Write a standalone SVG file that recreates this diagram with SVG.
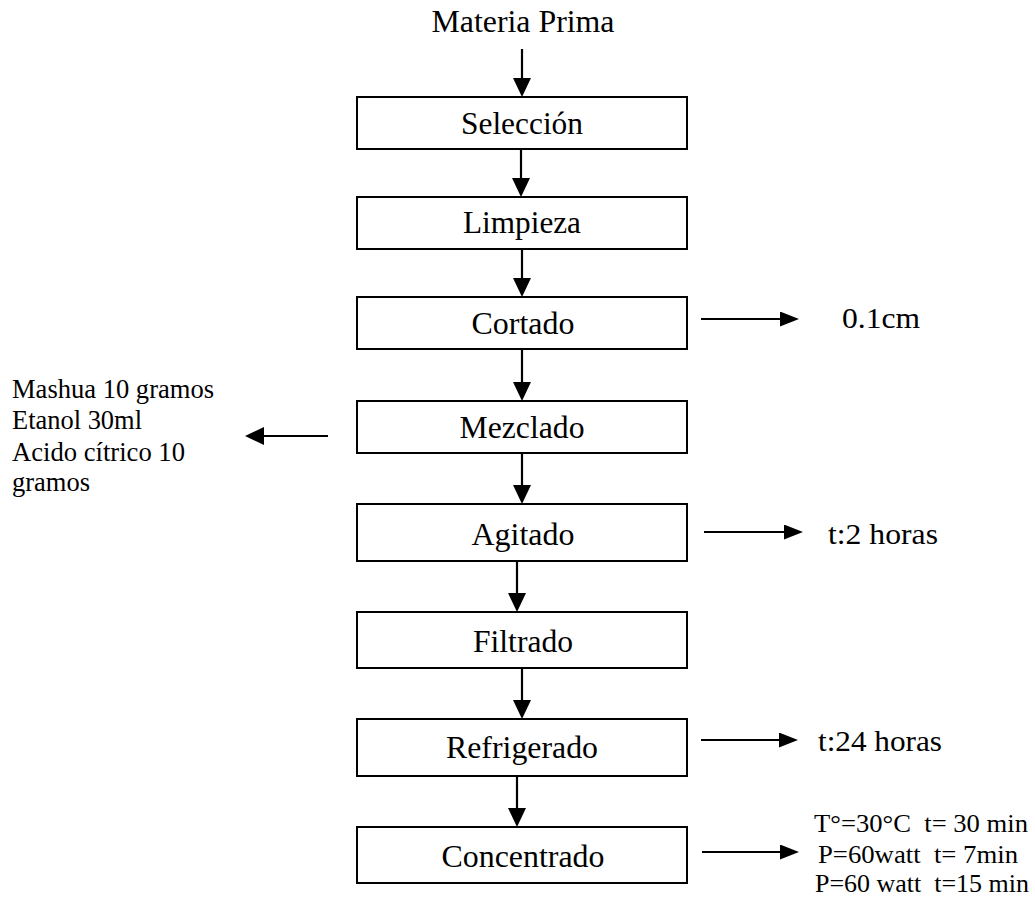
<svg xmlns="http://www.w3.org/2000/svg" width="1035" height="899" viewBox="0 0 1035 899">
<defs>
<style>
.box{fill:#fff;stroke:#000;stroke-width:2}
.lbl{font-family:"Liberation Serif","Times New Roman",serif;font-size:31px;fill:#000;text-anchor:middle}
.side{font-family:"Liberation Serif","Times New Roman",serif;font-size:30px;fill:#000;white-space:pre}
.small{font-family:"Liberation Serif","Times New Roman",serif;font-size:27px;fill:#000;white-space:pre}
.note{font-family:"Liberation Serif","Times New Roman",serif;font-size:26px;fill:#000;white-space:pre}
.conn{stroke:#000;stroke-width:2.2;fill:none}
.v{marker-end:url(#hv)}
.h{marker-end:url(#hh)}
</style>
<marker id="hv" markerUnits="userSpaceOnUse" markerWidth="20" markerHeight="20" refX="1" refY="9" orient="auto" viewBox="0 0 20 20">
<path d="M0,0 L19,9 L0,18 z" fill="#000"/>
</marker>
<marker id="hh" markerUnits="userSpaceOnUse" markerWidth="20" markerHeight="20" refX="1" refY="7.5" orient="auto" viewBox="0 0 20 20">
<path d="M0,0 L19,7.5 L0,15 z" fill="#000"/>
</marker>
</defs>
<rect width="1035" height="899" fill="#fff"/>

<g id="materia-prima">
<text class="lbl" x="523" y="32" textLength="183" lengthAdjust="spacingAndGlyphs">Materia Prima</text>
</g>
<g id="seleccion">
<rect class="box" x="357" y="97" width="330" height="52"/>
<text class="lbl" x="522" y="134" textLength="122" lengthAdjust="spacingAndGlyphs">Selección</text>
</g>
<g id="limpieza">
<rect class="box" x="357" y="197" width="330" height="52"/>
<text class="lbl" x="522" y="233" textLength="118" lengthAdjust="spacingAndGlyphs">Limpieza</text>
</g>
<g id="cortado">
<rect class="box" x="357" y="297" width="330" height="52"/>
<text class="lbl" x="523" y="334" textLength="103" lengthAdjust="spacingAndGlyphs">Cortado</text>
</g>
<g id="mezclado">
<rect class="box" x="357" y="401" width="330" height="52"/>
<text class="lbl" x="522" y="438" textLength="125" lengthAdjust="spacingAndGlyphs">Mezclado</text>
</g>
<g id="agitado">
<rect class="box" x="357" y="504" width="330" height="57"/>
<text class="lbl" x="523" y="545" textLength="103" lengthAdjust="spacingAndGlyphs">Agitado</text>
</g>
<g id="filtrado">
<rect class="box" x="357" y="612" width="330" height="56"/>
<text class="lbl" x="523" y="652" textLength="100" lengthAdjust="spacingAndGlyphs">Filtrado</text>
</g>
<g id="refrigerado">
<rect class="box" x="357" y="719" width="330" height="57"/>
<text class="lbl" x="522" y="758" textLength="152" lengthAdjust="spacingAndGlyphs">Refrigerado</text>
</g>
<g id="concentrado">
<rect class="box" x="357" y="827" width="330" height="56"/>
<text class="lbl" x="523" y="867" textLength="163" lengthAdjust="spacingAndGlyphs">Concentrado</text>
</g>

<g id="note-cortado">
<text class="side" x="842" y="328" textLength="78" lengthAdjust="spacingAndGlyphs">0.1cm</text>
</g>
<g id="note-mezclado">
<text class="small" x="12" y="398" textLength="202" lengthAdjust="spacingAndGlyphs">Mashua 10 gramos</text>
<text class="small" x="12" y="429" textLength="130" lengthAdjust="spacingAndGlyphs">Etanol 30ml</text>
<text class="small" x="12" y="461" textLength="173" lengthAdjust="spacingAndGlyphs">Acido cítrico 10</text>
<text class="small" x="12" y="491" textLength="78" lengthAdjust="spacingAndGlyphs">gramos</text>
</g>
<g id="note-agitado">
<text class="side" x="828" y="544" textLength="110" lengthAdjust="spacingAndGlyphs">t:2 horas</text>
</g>
<g id="note-refrigerado">
<text class="side" x="818" y="751" textLength="124" lengthAdjust="spacingAndGlyphs">t:24 horas</text>
</g>
<g id="note-concentrado">
<text class="note" x="814" y="832" textLength="214" lengthAdjust="spacingAndGlyphs">T°=30°C  t= 30 min</text>
<text class="note" x="818" y="863" textLength="200" lengthAdjust="spacingAndGlyphs">P=60watt  t= 7min</text>
<text class="note" x="815" y="892" textLength="214" lengthAdjust="spacingAndGlyphs">P=60 watt  t=15 min</text>
</g>

<g id="connectors">
<line class="conn v" x1="522" y1="49" x2="522" y2="79"/>
<line class="conn v" x1="521" y1="149" x2="521" y2="179"/>
<line class="conn v" x1="522" y1="249" x2="522" y2="279"/>
<line class="conn v" x1="522" y1="349" x2="522" y2="383"/>
<line class="conn v" x1="522" y1="453" x2="522" y2="486"/>
<line class="conn v" x1="517" y1="561" x2="517" y2="594"/>
<line class="conn v" x1="522" y1="668" x2="522" y2="701"/>
<line class="conn v" x1="517" y1="776" x2="517" y2="809"/>
<line class="conn h" x1="701" y1="319" x2="781" y2="319"/>
<line class="conn v" x1="328" y1="436" x2="263" y2="436"/>
<line class="conn h" x1="704" y1="532" x2="785" y2="532"/>
<line class="conn h" x1="701" y1="740" x2="780" y2="740"/>
<line class="conn h" x1="702" y1="852" x2="781" y2="852"/>
</g>
</svg>
